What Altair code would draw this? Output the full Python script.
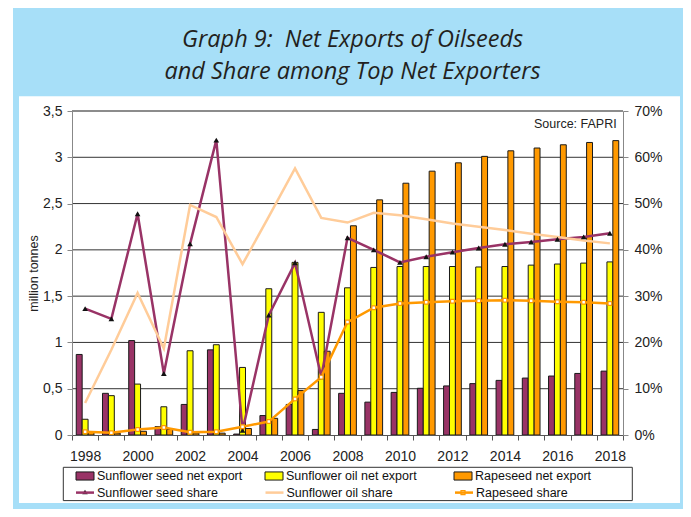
import altair as alt
import pandas as pd

# ---------------- data ----------------
years = list(range(1998, 2019))

sunflower_seed_export = [0.87, 0.45, 1.02, 0.09, 0.33, 0.92, 0.01, 0.21, 0.33, 0.06, 0.45,
                         0.355, 0.46, 0.505, 0.53, 0.555, 0.59, 0.615, 0.637, 0.665, 0.69]
sunflower_oil_export = [0.17, 0.425, 0.55, 0.305, 0.91, 0.975, 0.73, 1.58, 1.865, 1.325, 1.59,
                        1.81, 1.82, 1.82, 1.82, 1.815, 1.82, 1.835, 1.847, 1.857, 1.87]
rapeseed_export = [0.03, 0.02, 0.04, 0.06, 0.02, 0.02, 0.07, 0.18, 0.48, 0.905, 2.26,
                   2.54, 2.72, 2.85, 2.94, 3.01, 3.07, 3.10, 3.135, 3.16, 3.18]

# shares in percent
sunflower_seed_share = [27.3, 25.1, 47.8, 13.3, 41.3, 63.7, 1.0, 25.9, 37.2, 12.6, 42.6,
                        40.0, 37.3, 38.5, 39.5, 40.4, 41.2, 41.7, 42.3, 42.8, 43.6]
sunflower_oil_share = [6.9, 18.4, 30.7, 18.7, 49.7, 47.1, 36.9, 47.2, 57.6, 46.9, 45.9,
                       48.0, 47.5, 46.6, 45.7, 45.0, 44.3, 43.5, 42.8, 42.0, 41.4]
rapeseed_share = [0.7, 0.5, 1.2, 1.6, 0.6, 0.7, 1.8, 2.9, 7.8, 12.5, 24.4,
                  27.5, 28.4, 28.7, 28.9, 29.0, 29.1, 29.0, 28.8, 28.7, 28.4]

bar_series = ["Sunflower seed net export", "Sunflower oil net export", "Rapeseed net export"]
bar_colors = ["#993366", "#FFFF00", "#FF9900"]
share_series = ["Sunflower seed share", "Sunflower oil share", "Rapeseed share"]
share_colors = ["#993366", "#FFCC99", "#FF9900"]

left_ticks = [0, 0.5, 1, 1.5, 2, 2.5, 3, 3.5]
grid_ticks = [0.5, 1, 1.5, 2, 2.5, 3, 3.5]
right_ticks = [0, 0.1, 0.2, 0.3, 0.4, 0.5, 0.6, 0.7]

title_line1 = "Graph 9:\u00a0 Net Exports of Oilseeds"
title_line2 = "and Share among Top Net Exporters"
source_text = "Source: FAPRI"
y_title = "million tonnes"

# ---------------- tables ----------------
bar_df = pd.DataFrame({
    "year": years * 3,
    "series": [s for s in bar_series for _ in years],
    "value": sunflower_seed_export + sunflower_oil_export + rapeseed_export,
})
share_df = pd.DataFrame({
    "year": years * 3,
    "series": [s for s in share_series for _ in years],
    "share": [v / 100 for v in sunflower_seed_share + sunflower_oil_share + rapeseed_share],
})
grid_df = pd.DataFrame({"v": grid_ticks})
one = pd.DataFrame({"k": [0]})

# ---------------- style ----------------
FONT = "Liberation Sans"
TFONT = "Open Sans"
BLUE = "#a7dff8"
W, H = 551, 324

x_enc = alt.X(
    "year:O",
    scale=alt.Scale(paddingInner=0, paddingOuter=0),
    axis=alt.Axis(
        title=None, tickBand="extent", labelAngle=0, labelOverlap=False,
        labelExpr="datum.value % 2 == 0 ? datum.label : ''",
        labelFont=FONT, labelFontSize=14, labelColor="#222", labelPadding=9,
        tickSize=5, tickColor="#555", domainColor="#555", grid=False, zindex=1,
    ),
)

left_scale = alt.Scale(domain=[0, 3.5], nice=False, zero=True)
right_scale = alt.Scale(domain=[0, 0.7], nice=False, zero=True)

# ---------------- decorative background ----------------
frame = alt.Chart(one).mark_rect(color=BLUE).encode(
    x=alt.value(-59), x2=alt.value(W + 60), y=alt.value(-103), y2=alt.value(H + 74)
)
panel = alt.Chart(one).mark_rect(color="white").encode(
    x=alt.value(-53), x2=alt.value(W + 57), y=alt.value(-14.7), y2=alt.value(H + 68)
)
legend_box = alt.Chart(one).mark_rect(fill="white", stroke="#333", strokeWidth=1).encode(
    x=alt.value(-8.7), x2=alt.value(560.3), y=alt.value(356.3), y2=alt.value(389.6)
)

grid = alt.Chart(grid_df).mark_rule().encode(
    y=alt.Y("v:Q", scale=left_scale, axis=None),
    stroke=alt.condition(alt.datum.v == 3.5, alt.value("#8c8c8c"), alt.value("#333333")),
    strokeWidth=alt.condition(alt.datum.v == 3.5, alt.value(2), alt.value(1)),
)

bars = alt.Chart(bar_df).mark_bar(stroke="#1a1a1a", strokeWidth=1).encode(
    x=x_enc,
    xOffset=alt.XOffset("series:N", sort=bar_series,
                        scale=alt.Scale(domain=bar_series, paddingInner=0, paddingOuter=0.72)),
    y=alt.Y("value:Q", scale=left_scale,
            axis=alt.Axis(orient="left", values=left_ticks, grid=False, format="~g",
                          labelExpr="replace(datum.label, '.', ',')",
                          labelFont=FONT, labelFontSize=14, labelColor="#222", labelPadding=5,
                          tickSize=5, tickColor="#888", domainColor="#888",
                          title=y_title, titleFont=FONT, titleFontSize=12.5,
                          titleFontWeight="normal", titleColor="#222",
                          titleX=-38.5, titleY=H / 2, titleAngle=270,
                          titleAlign="center", titleBaseline="middle", zindex=1)),
    fill=alt.Fill("series:N", sort=bar_series,
                  scale=alt.Scale(domain=bar_series, range=bar_colors),
                  legend=alt.Legend(title=None, orient="none", legendX=3.5, legendY=355.5,
                                    direction="horizontal", columns=3, gridAlign="all",
                                    columnPadding=20, padding=0,
                                    symbolType="M-1,-0.45L1,-0.45L1,0.45L-1,0.45Z",
                                    symbolSize=324, symbolStrokeWidth=1,
                                    symbolStrokeColor="#1a1a1a",
                                    labelFont=FONT, labelFontSize=12.5, labelColor="#111",
                                    labelOffset=2.5, zindex=2)),
)

lines = alt.Chart(share_df).mark_line(strokeWidth=2.5).encode(
    x=x_enc,
    y=alt.Y("share:Q", scale=right_scale,
            axis=alt.Axis(orient="right", values=right_ticks, format=".0%", grid=False,
                          labelFont=FONT, labelFontSize=14, labelColor="#222", labelPadding=6,
                          tickSize=5, tickColor="#888", domainColor="#888", title=None,
                          zindex=1)),
    stroke=alt.Stroke("series:N", sort=share_series,
                      scale=alt.Scale(domain=share_series, range=share_colors),
                      legend=alt.Legend(title=None, orient="none", legendX=2.5, legendY=371.1,
                                        direction="horizontal", columns=3, gridAlign="all",
                                        columnPadding=41.5, padding=0,
                                        symbolType="stroke", symbolSize=324,
                                        symbolStrokeWidth=2.5,
                                        labelFont=FONT, labelFontSize=12.5, labelColor="#111",
                                        labelOffset=1.5, zindex=2)),
    order=alt.Order("year:O"),
)

seed_marks = alt.Chart(share_df).transform_filter(
    alt.datum.series == "Sunflower seed share"
).mark_point(shape="triangle-up", filled=True, color="#111", size=32, opacity=1).encode(
    x=x_enc, y=alt.Y("share:Q", scale=right_scale, axis=None)
)
rape_marks = alt.Chart(share_df).transform_filter(
    alt.datum.series == "Rapeseed share"
).mark_point(shape="square", filled=True, fill="white", stroke="#FF9900",
             strokeWidth=1.2, size=14, opacity=1).encode(
    x=x_enc, y=alt.Y("share:Q", scale=right_scale, axis=None)
)

# legend marker glyphs under the line-legend symbols
legend_tri = alt.Chart(one).mark_point(shape="triangle-up", filled=True, color="#111",
                                       size=30, opacity=1).encode(
    x=alt.value(13), y=alt.value(381.0))
legend_dot = alt.Chart(one).mark_point(shape="square", filled=True, fill="white",
                                       stroke="#FF9900", strokeWidth=1.2, size=16,
                                       opacity=1).encode(
    x=alt.value(391), y=alt.value(381.6))

title1 = alt.Chart(one).mark_text(font=TFONT, fontStyle="italic", fontSize=23.5,
                                  color="#231f20", align="center", baseline="alphabetic").encode(
    x=alt.value(280.6), y=alt.value(-64), text=alt.value(title_line1))
title2 = alt.Chart(one).mark_text(font=TFONT, fontStyle="italic", fontSize=23.5,
                                  color="#231f20", align="center", baseline="alphabetic").encode(
    x=alt.value(280.6), y=alt.value(-32.4), text=alt.value(title_line2))
source = alt.Chart(one).mark_text(font=FONT, fontSize=12.5, color="#222",
                                  align="right", baseline="middle").encode(
    x=alt.value(544.7), y=alt.value(12.6), text=alt.value(source_text))

chart = alt.layer(
    frame, panel, legend_box, grid, bars, lines, seed_marks, rape_marks,
    title1, title2, source, legend_tri, legend_dot
).resolve_scale(
    y="independent"
).properties(
    width=W, height=H,
    autosize=alt.AutoSizeParams(type="none"),
    padding={"left": 64, "top": 103, "right": 60, "bottom": 74},
    background="white",
).configure_view(stroke=None)

chart.save("out.html", embed_options={"renderer": "svg", "actions": False})
